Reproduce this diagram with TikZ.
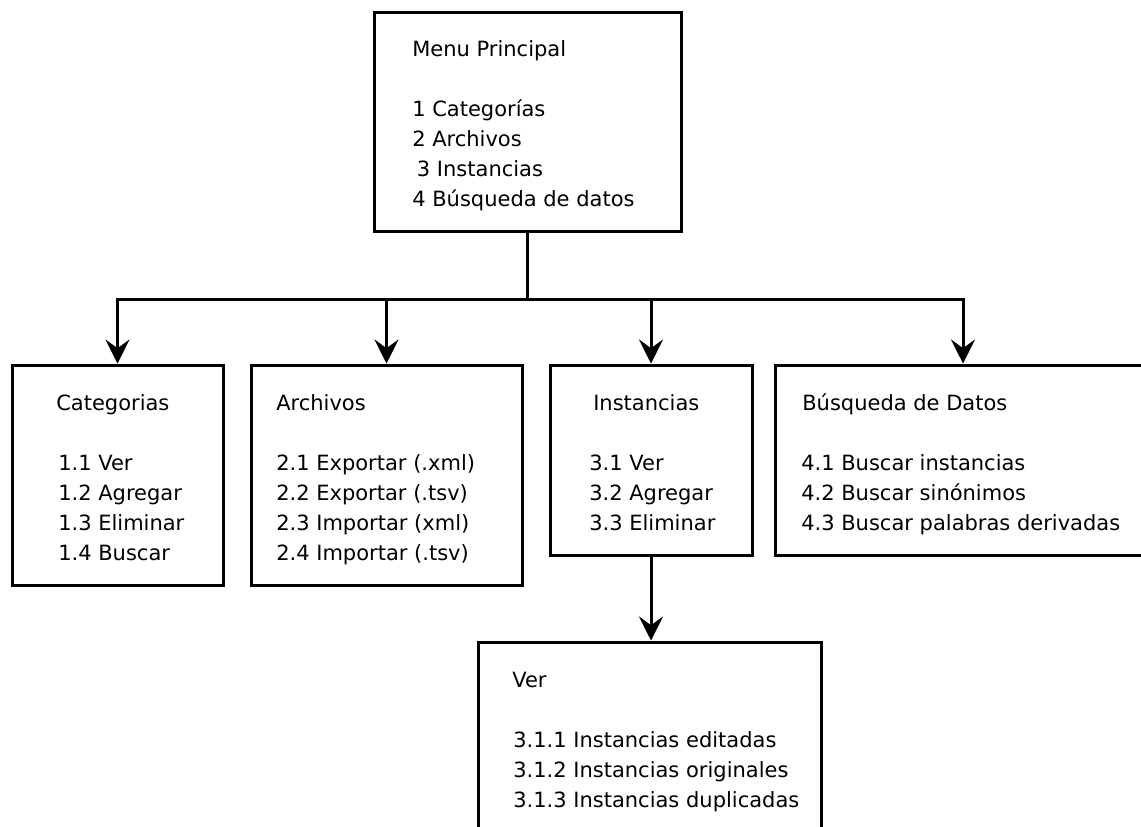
\documentclass[tikz,border=0pt]{standalone}
\usepackage{fontspec}
\setmainfont{DejaVu Sans}
\usetikzlibrary{arrows.meta}
\begin{document}
\begin{tikzpicture}[
  x=0.75pt, y=-0.75pt,
  box/.style={draw, line width=2.25pt, inner sep=0pt},
  txt/.style={anchor=base west, inner sep=0pt, font=\fontsize{15.75pt}{18pt}\selectfont},
  flow/.style={line width=2.25pt, line join=miter,
    -{Stealth[length=18pt, width=18pt, inset=6.5pt]}}
]
% page frame
\clip (0,0) rectangle (1141,826);
\fill[white] (0,0) rectangle (1141,826);

% boxes
\node[box, minimum width=307*0.75pt, minimum height=219*0.75pt] (main) at (527.5,121.5) {};
\node[box, minimum width=211*0.75pt, minimum height=220*0.75pt] (cat)  at (117.5,475) {};
\node[box, minimum width=271*0.75pt, minimum height=220*0.75pt] (arch) at (386.5,475) {};
\node[box, minimum width=202*0.75pt, minimum height=190*0.75pt] (inst) at (651,460) {};
\node[box, minimum width=376*0.75pt, minimum height=190*0.75pt] (busq) at (963,460) {};
\node[box, minimum width=343*0.75pt, minimum height=228*0.75pt] (ver)  at (649.5,756) {};

% main menu text
\node[txt] (mainT) at (412,56) {Menu Principal};
\foreach \t [count=\i from 0] in {1 Categorías, 2 Archivos, {\hspace*{3.5pt}3 Instancias}, 4 Búsqueda de datos}
  \node[txt] (main-\i) at (412,116+30*\i) {\t};

% Categorias
\node[txt] (catT) at (56,410) {Categorias};
\foreach \t [count=\i from 0] in {1.1 Ver, 1.2 Agregar, 1.3 Eliminar, 1.4 Buscar}
  \node[txt] (cat-\i) at (58,470+30*\i) {\t};

% Archivos
\node[txt] (archT) at (276,410) {Archivos};
\foreach \t [count=\i from 0] in {2.1 Exportar (.xml), 2.2 Exportar (.tsv), 2.3 Importar (xml), 2.4 Importar (.tsv)}
  \node[txt] (arch-\i) at (276,470+30*\i) {\t};

% Instancias
\node[txt] (instT) at (593,410) {Instancias};
\foreach \t [count=\i from 0] in {3.1 Ver, 3.2 Agregar, 3.3 Eliminar}
  \node[txt] (inst-\i) at (589,470+30*\i) {\t};

% Busqueda de datos
\node[txt] (busqT) at (802,410) {Búsqueda de Datos};
\foreach \t [count=\i from 0] in {4.1 Buscar instancias, 4.2 Buscar sinónimos, 4.3 Buscar palabras derivadas}
  \node[txt] (busq-\i) at (801,470+30*\i) {\t};

% Ver
\node[txt] (verT) at (512,687) {Ver};
\foreach \t [count=\i from 0] in {3.1.1 Instancias editadas, 3.1.2 Instancias originales, 3.1.3 Instancias duplicadas}
  \node[txt] (ver-\i) at (513,747+30*\i) {\t};

% connectors
\coordinate (bus) at (527.5,299);
\draw[flow] (main.south) -- (bus) -| (cat.north);
\draw[flow] (main.south) -- (bus) -| (arch.north);
\draw[flow] (main.south) -- (bus) -| (inst.north);
\draw[flow] (main.south) -- (bus) -| (busq.north);
\draw[flow] (inst.south) -- (inst.south |- ver.north);
\end{tikzpicture}
\end{document}
